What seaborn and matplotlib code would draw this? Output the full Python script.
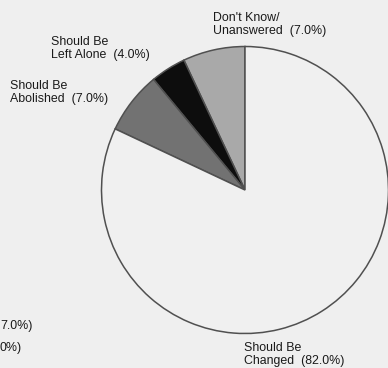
import matplotlib
matplotlib.use("Agg")
import matplotlib.pyplot as plt
import seaborn as sns

categories = ["Don't Know/\nUnanswered", "Should Be\nLeft Alone", "Should Be\nAbolished", "Should Be\nChanged"]
values = [7.0, 4.0, 7.0, 82.0]
colors = ["#a9a9a9", "#0d0d0d", "#727272", "#f0f0f0"]
stray_labels = ["7.0%)", "0%)"]

sns.set_style("white")
plt.rcParams['font.family'] = ['Liberation Sans', 'DejaVu Sans']

bg = "#efefef"
fig = plt.figure(figsize=(3.88, 3.68), dpi=100, facecolor=bg)
ax = fig.add_axes([0, 0, 1, 1], facecolor=bg)

H = 368
ax.pie(values, colors=colors, startangle=90, counterclock=True,
       center=(245, H - 190), radius=143.5, frame=True,
       wedgeprops=dict(edgecolor="#505050", linewidth=1.1))
ax.set_xlim(0, 388)
ax.set_ylim(0, 368)
ax.set_aspect("equal")
ax.axis("off")

label_pos = [(213, 12), (51, 36), (10, 80), (244, 342)]
for cat, val, (x, y) in zip(categories, values, label_pos):
    ax.text(x, H - y, f"{cat}  ({val:.1f}%)", ha="left", va="top", fontsize=8.9,
            color="#1a1a1a", linespacing=1.1)

for i, s in enumerate(stray_labels):
    ax.text(0, H - (320 + 22 * i), s, ha="left", va="top", fontsize=8.9, color="#1a1a1a")

fig.savefig("out.png", dpi=100, facecolor=bg)
